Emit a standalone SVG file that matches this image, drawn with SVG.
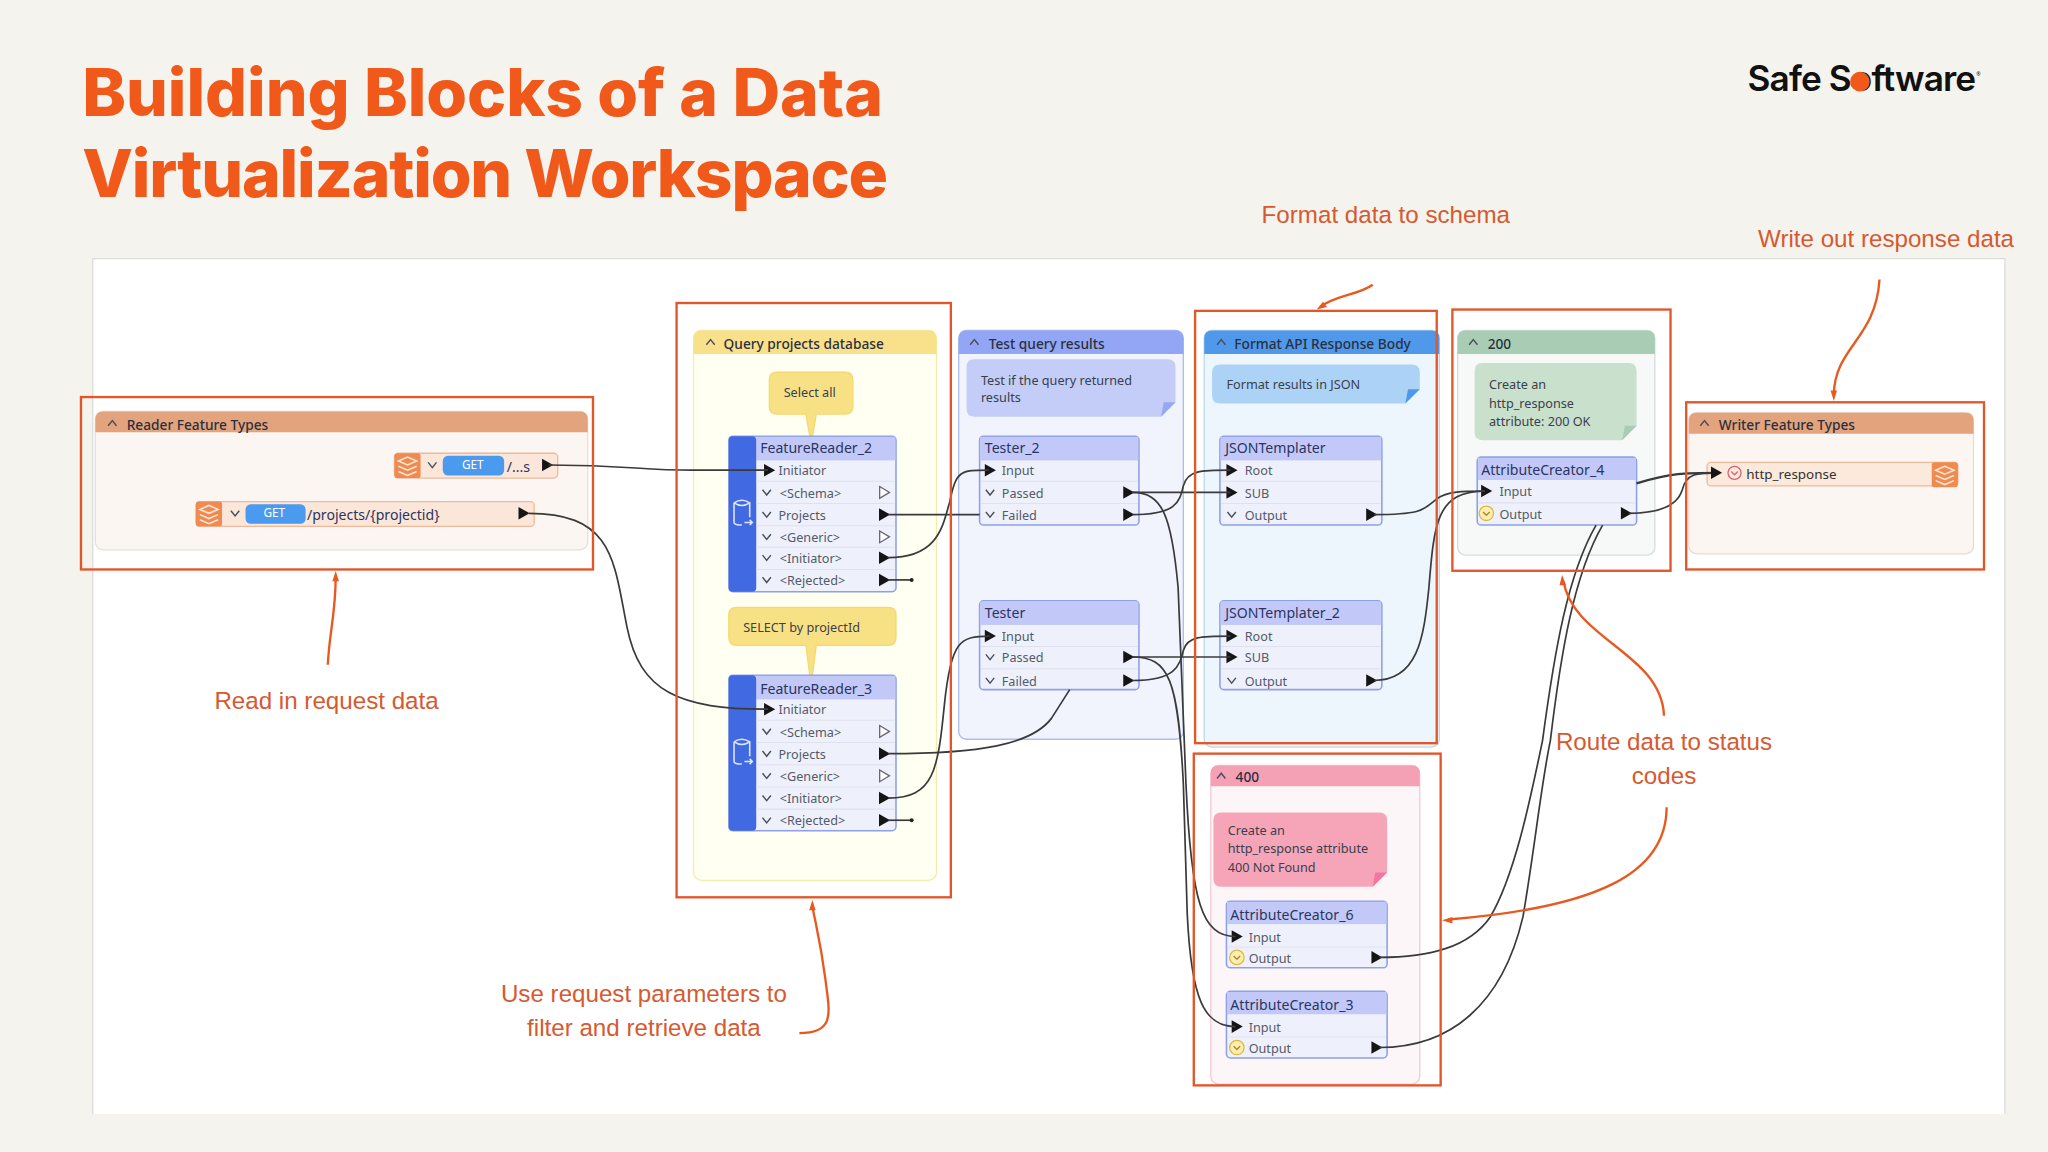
<svg xmlns="http://www.w3.org/2000/svg" width="2048" height="1152" viewBox="0 0 2048 1152">
<style>
text{font-family:"Noto Sans","DejaVu Sans",sans-serif;font-size:10.5px;fill:#2f3550}
.title{font-family:Inter,"Liberation Sans",sans-serif;font-weight:800;font-size:50.500px;fill:#f1591a}
.logo{font-family:Inter,"Liberation Sans",sans-serif;font-weight:600;font-size:27px;fill:#111}
.ann{font-family:"Liberation Sans",sans-serif;font-size:18.500px;fill:#d65a30;text-anchor:middle}
.bt{font-size:10.500px;font-weight:500;fill:#2b3040}
.hd{font-size:10.800px;fill:#2b3560}
.row{fill:#555a68;font-size:9.700px}
.nt{font-size:9.700px;fill:#3a3f4c}
.node{fill:#eef1fb;stroke:#8fa0e8;stroke-width:1.2}
.nh{fill:#c2c9f9}
.side{fill:#4169e1}
.sep{stroke:#dfe2ee;stroke-width:.8}
.c{fill:none;stroke:#3a3a3a;stroke-width:1.3}
.box{fill:none;stroke:#e2572a;stroke-width:1.8}
.a{fill:none;stroke:#e8591f;stroke-width:1.8}
.ah{fill:#e8591f}
.chev{fill:none;stroke:#4a4f5c;stroke-width:1.1}
.get{fill:#4a9bf0}
.gt{fill:#fff;font-size:9px;text-anchor:middle}
.ok{fill:#fbeeb5;stroke:#e0b93c;stroke-width:1}
</style>
<defs>
<path id="tri" d="M-4,-4.8L4.5,0L-4,4.8Z" fill="#151515"/>
<path id="otri" d="M-3.5,-4.5L4,0L-3.5,4.5Z" fill="#fff" stroke="#667" stroke-width="1"/>
<path id="ch" class="chev" d="M-3.2,-2L0,2L3.2,-2"/>
<path id="up" class="chev" d="M-3.2,2L0,-2L3.2,2"/>
<g id="stack"><rect x="0" y="0" width="20" height="19" rx="2" fill="#ef8a50"/><path d="M3,6L10,3L17,6L10,9ZM3,10L10,13L17,10M3,14L10,17L17,14" fill="none" stroke="#fde6d6" stroke-width="1.2"/></g>
<g id="db"><path d="M-6,-8V7Q-6,9 0,9M6,-8V3M-6,-8Q0,-12 6,-8Q0,-4 -6,-8M2,7H8M6,5L8,7L6,9" fill="none" stroke="#dfe6ff" stroke-width="1.2"/></g>
<g id="okc"><circle class="ok" r="5.5"/><path class="chev" d="M-2.5,-1L0,1.5L2.5,-1" style="stroke:#b08a20"/></g>
</defs>
<rect width="2048" height="1152" fill="#f4f3ee"/>
<g transform="scale(1.30612)">
<text class="title" x="63" y="89" textLength="613" lengthAdjust="spacing">Building Blocks of a Data</text>
<text class="title" x="63" y="151" textLength="617" lengthAdjust="spacing">Virtualization Workspace</text>
<text class="logo" x="1338" y="70" textLength="175" lengthAdjust="spacing">Safe Software</text>
<circle cx="1424" cy="62.500" r="7.500" fill="#f1591a"/>
<text x="1513" y="58" style="font-size:4px;fill:#111">®</text>

<path d="M71,853V198H1535V853Z" fill="#fff"/><path d="M71,853V198H1535V853" fill="none" stroke="#dcdcdc"/>

<g id="bm-reader"><rect x="73" y="315" width="377" height="106" rx="6" fill="#fbf6f1" stroke="#eadfd8"/><path d="M73,331V321Q73,315 79,315H444Q450,315 450,321V331Z" fill="#e2a37d"/><use href="#up" x="86" y="324"/><text class="bt" x="97" y="329">Reader Feature Types</text></g>
<g id="bm-query"><rect x="531" y="253" width="186" height="421" rx="6" fill="#fffff2" stroke="#f0eea8"/><path d="M531,271V259Q531,253 537,253H711Q717,253 717,259V271Z" fill="#f9e08b"/><use href="#up" x="544" y="262"/><text class="bt" x="554" y="267">Query projects database</text></g>
<g id="bm-test"><rect x="734" y="253" width="172" height="313" rx="6" fill="#f1f4fd" stroke="#b0bbf0"/><path d="M734,271V259Q734,253 740,253H900Q906,253 906,259V271Z" fill="#93a6f5"/><use href="#up" x="746" y="262"/><text class="bt" x="757" y="267">Test query results</text></g>
<g id="bm-format"><rect x="922" y="253" width="180" height="319" rx="6" fill="#eef6fd" stroke="#bcd8ea"/><path d="M922,271V259Q922,253 928,253H1096Q1102,253 1102,259V271Z" fill="#4f98ea"/><use href="#up" x="935" y="262"/><text class="bt" x="945" y="267">Format API Response Body</text></g>
<g id="bm-200"><rect x="1116" y="253" width="151" height="172" rx="6" fill="#f6f9f8" stroke="#d5dedb"/><path d="M1116,271V259Q1116,253 1122,253H1261Q1267,253 1267,259V271Z" fill="#a9cdb4"/><use href="#up" x="1128" y="262"/><text class="bt" x="1139" y="267">200</text></g>
<g id="bm-400"><rect x="927" y="586" width="160" height="244" rx="6" fill="#fdf6f9" stroke="#f6c8d6"/><path d="M927,602V592Q927,586 933,586H1081Q1087,586 1087,592V602Z" fill="#f4a0b5"/><use href="#up" x="935" y="594"/><text class="bt" x="946" y="599">400</text></g>
<g id="bm-writer"><rect x="1293" y="316" width="218" height="108" rx="6" fill="#fbf6f1" stroke="#ecd9cf"/><path d="M1293,332V322Q1293,316 1299,316H1505Q1511,316 1511,322V332Z" fill="#e2a37d"/><use href="#up" x="1305" y="324"/><text class="bt" x="1316" y="329">Writer Feature Types</text></g>

<g id="reader-get-all"><rect x="302" y="347" width="125" height="19" rx="3" fill="#fbe6da" stroke="#f0b89a"/><use href="#stack" x="302" y="347"/><use href="#ch" x="331" y="356"/><rect class="get" x="339" y="349" width="47" height="15" rx="4"/><text class="gt" x="362" y="359">GET</text><text x="388" y="361" class="hd">/...s</text><use href="#tri" x="419" y="356"/></g>
<g id="reader-get-project"><rect x="150" y="384" width="259" height="19" rx="3" fill="#fbe6da" stroke="#f0b89a"/><use href="#stack" x="150" y="384"/><use href="#ch" x="180" y="393"/><rect class="get" x="188" y="386" width="46" height="15" rx="4"/><text class="gt" x="210" y="396">GET</text><text x="235" y="398" class="hd">/projects/{projectid}</text><use href="#tri" x="401" y="393"/></g>
<g id="writer-http-response"><rect x="1307" y="354" width="192" height="18" rx="3" fill="#fbeadc" stroke="#f0b89a"/><use href="#stack" x="1479" y="354"/><circle cx="1328" cy="362" r="5" fill="none" stroke="#d9607a"/><path d="M1325.500,361L1328,363.500L1330.500,361" fill="none" stroke="#d9607a"/><text x="1337" y="367" class="hd" style="fill:#333;font-size:10.300px">http_response</text></g>

<g id="note-select-all"><path d="M595,285H647Q653,285 653,291V311Q653,317 647,317H625L622,334H620L617,317H595Q589,317 589,311V291Q589,285 595,285Z" fill="#f8e184" stroke="#f3d970"/><text class="nt" x="600" y="304">Select all</text></g>
<g id="note-select-by"><path d="M564,465H680Q686,465 686,471V488Q686,494 680,494H625L622,517H620L617,494H564Q558,494 558,488V471Q558,465 564,465Z" fill="#f8e184" stroke="#f3d970"/><text class="nt" x="569" y="484">SELECT by projectId</text></g>
<g id="note-test"><path d="M746,275H894Q900,275 900,281V308L889,319H746Q740,319 740,313V281Q740,275 746,275Z" fill="#c3cdf8"/><path d="M900,308H891L889,319Z" fill="#95a9f2"/><text class="nt" x="751" y="295">Test if the query returned</text><text class="nt" x="751" y="308">results</text></g>
<g id="note-format"><path d="M934,279H1081Q1087,279 1087,285V298L1076,309H934Q928,309 928,303V285Q928,279 934,279Z" fill="#acd2f6"/><path d="M1087,298H1078L1076,309Z" fill="#4f98ea"/><text class="nt" x="939" y="298">Format results in JSON</text></g>
<g id="note-200"><path d="M1135,278H1247Q1253,278 1253,284V326L1242,337H1135Q1129,337 1129,331V284Q1129,278 1135,278Z" fill="#c9e0cd"/><path d="M1253,326H1244L1242,337Z" fill="#a9cdb4"/><text class="nt" x="1140" y="298">Create an</text><text class="nt" x="1140" y="312">http_response</text><text class="nt" x="1140" y="326">attribute: 200 OK</text></g>
<g id="note-400"><path d="M935,622H1056Q1062,622 1062,628V668L1051,679H935Q929,679 929,673V628Q929,622 935,622Z" fill="#f6a5b8"/><path d="M1062,668H1053L1051,679Z" fill="#f476a0"/><text class="nt" x="940" y="639">Create an</text><text class="nt" x="940" y="653">http_response attribute</text><text class="nt" x="940" y="668">400 Not Found</text></g>

<g id="feature-reader-2"><rect class="node" x="558" y="334" width="128" height="119" rx="3"/><rect class="nh" x="579" y="334.500" width="106.500" height="18"/><rect class="side" x="558" y="334" width="21" height="119" rx="3"/><path class="sep" d="M579,368.500H685M579,385.500H685M579,402.500H685M579,419H685M579,436H685"/><use href="#db" x="568" y="393"/><text class="hd" x="582" y="347">FeatureReader_2</text><use href="#tri" x="589" y="360"/><text class="row" x="596" y="364">Initiator</text><use href="#ch" x="587" y="377"/><text class="row" x="597" y="381">&lt;Schema&gt;</text><use href="#otri" x="677" y="377"/><use href="#ch" x="587" y="394"/><text class="row" x="596" y="398">Projects</text><use href="#tri" x="677" y="394"/><use href="#ch" x="587" y="411"/><text class="row" x="597" y="415">&lt;Generic&gt;</text><use href="#otri" x="677" y="411"/><use href="#ch" x="587" y="427"/><text class="row" x="597" y="431">&lt;Initiator&gt;</text><use href="#tri" x="677" y="427"/><use href="#ch" x="587" y="444"/><text class="row" x="597" y="448">&lt;Rejected&gt;</text><use href="#tri" x="677" y="444"/></g>
<g id="feature-reader-3"><rect class="node" x="558" y="517" width="128" height="119" rx="3"/><rect class="nh" x="579" y="517.500" width="106.500" height="18"/><rect class="side" x="558" y="517" width="21" height="119" rx="3"/><path class="sep" d="M579,551.500H685M579,568.500H685M579,585.500H685M579,602.500H685M579,619.500H685"/><use href="#db" x="568" y="576"/><text class="hd" x="582" y="531">FeatureReader_3</text><use href="#tri" x="589" y="543"/><text class="row" x="596" y="547">Initiator</text><use href="#ch" x="587" y="560"/><text class="row" x="597" y="564">&lt;Schema&gt;</text><use href="#otri" x="677" y="560"/><use href="#ch" x="587" y="577"/><text class="row" x="596" y="581">Projects</text><use href="#tri" x="677" y="577"/><use href="#ch" x="587" y="594"/><text class="row" x="597" y="598">&lt;Generic&gt;</text><use href="#otri" x="677" y="594"/><use href="#ch" x="587" y="611"/><text class="row" x="597" y="615">&lt;Initiator&gt;</text><use href="#tri" x="677" y="611"/><use href="#ch" x="587" y="628"/><text class="row" x="597" y="632">&lt;Rejected&gt;</text><use href="#tri" x="677" y="628"/></g>
<g id="tester-2"><rect class="node" x="750" y="334" width="122" height="68" rx="3"/><rect class="nh" x="750.500" y="334.500" width="121" height="18"/><path class="sep" d="M751,368.500H871M751,385.500H871"/><text class="hd" x="754" y="347">Tester_2</text><use href="#tri" x="758" y="360"/><text class="row" x="767" y="364">Input</text><use href="#ch" x="758" y="377"/><text class="row" x="767" y="381">Passed</text><use href="#tri" x="864" y="377"/><use href="#ch" x="758" y="394"/><text class="row" x="767" y="398">Failed</text><use href="#tri" x="864" y="394"/></g>
<g id="tester"><rect class="node" x="750" y="460" width="122" height="68" rx="3"/><rect class="nh" x="750.500" y="460.500" width="121" height="18"/><path class="sep" d="M751,495H871M751,512H871"/><text class="hd" x="754" y="473">Tester</text><use href="#tri" x="758" y="487"/><text class="row" x="767" y="491">Input</text><use href="#ch" x="758" y="503"/><text class="row" x="767" y="507">Passed</text><use href="#tri" x="864" y="503"/><use href="#ch" x="758" y="521"/><text class="row" x="767" y="525">Failed</text><use href="#tri" x="864" y="521"/></g>
<g id="json-templater"><rect class="node" x="934" y="334" width="124" height="68" rx="3"/><rect class="nh" x="934.500" y="334.500" width="123" height="18"/><path class="sep" d="M935,368.500H1057M935,385.500H1057"/><text class="hd" x="938" y="347">JSONTemplater</text><use href="#tri" x="943" y="360"/><text class="row" x="953" y="364">Root</text><use href="#tri" x="943" y="377"/><text class="row" x="953" y="381">SUB</text><use href="#ch" x="943" y="394"/><text class="row" x="953" y="398">Output</text><use href="#tri" x="1050" y="394"/></g>
<g id="json-templater-2"><rect class="node" x="934" y="460" width="124" height="68" rx="3"/><rect class="nh" x="934.500" y="460.500" width="123" height="18"/><path class="sep" d="M935,495H1057M935,512H1057"/><text class="hd" x="938" y="473">JSONTemplater_2</text><use href="#tri" x="943" y="487"/><text class="row" x="953" y="491">Root</text><use href="#tri" x="943" y="503"/><text class="row" x="953" y="507">SUB</text><use href="#ch" x="943" y="521"/><text class="row" x="953" y="525">Output</text><use href="#tri" x="1050" y="521"/></g>
<g id="attribute-creator-4"><rect class="node" x="1131" y="350" width="122" height="52" rx="3"/><rect class="nh" x="1131.500" y="350.500" width="121" height="17"/><path class="sep" d="M1132,385H1252"/><text class="hd" x="1134" y="364">AttributeCreator_4</text><use href="#tri" x="1138" y="376"/><text class="row" x="1148" y="380">Input</text><use href="#okc" x="1138" y="393"/><text class="row" x="1148" y="397">Output</text><use href="#tri" x="1245" y="393"/></g>
<g id="attribute-creator-6"><rect class="node" x="939" y="690" width="123" height="51" rx="3"/><rect class="nh" x="939.500" y="690.500" width="122" height="17"/><path class="sep" d="M940,725H1061"/><text class="hd" x="942" y="704">AttributeCreator_6</text><use href="#tri" x="947" y="717"/><text class="row" x="956" y="721">Input</text><use href="#okc" x="947" y="733"/><text class="row" x="956" y="737">Output</text><use href="#tri" x="1054" y="733"/></g>
<g id="attribute-creator-3"><rect class="node" x="939" y="759" width="123" height="51" rx="3"/><rect class="nh" x="939.500" y="759.500" width="122" height="17"/><path class="sep" d="M940,794H1061"/><text class="hd" x="942" y="773">AttributeCreator_3</text><use href="#tri" x="947" y="786"/><text class="row" x="956" y="790">Input</text><use href="#okc" x="947" y="802"/><text class="row" x="956" y="806">Output</text><use href="#tri" x="1054" y="802"/></g>

<g id="connectors">
<path class="c" d="M420,356C480,356 490,360 530,360H588"/>
<path class="c" d="M405,393C470,393 470,430 480,480C490,530 520,543 588,543"/>
<path class="c" d="M680,394H750"/>
<path class="c" d="M680,427C720,427 722,400 727,385C732,360 735,360 757,360"/>
<path class="c" d="M680,444H698"/><circle cx="698" cy="444" r="1.500" fill="#222"/>
<path class="c" d="M680,577C750,577 790,570 805,550L819,528"/>
<path class="c" d="M680,611C715,611 718,590 723,540C728,490 735,487 758,487"/>
<path class="c" d="M680,628H698"/><circle cx="698" cy="628" r="1.500" fill="#222"/>
<path class="c" d="M867,377H942"/>
<path class="c" d="M867,377C890,377 897,395 902,450L908,600C912,690 920,717 946,717"/>
<path class="c" d="M867,394C900,394 903,385 906,372C909,360 920,360 942,360"/>
<path class="c" d="M867,503H942"/>
<path class="c" d="M867,503C895,503 902,520 906,600L909,700C912,765 922,786 946,786"/>
<path class="c" d="M867,521C900,521 903,510 906,498C909,487 920,487 942,487"/>
<path class="c" d="M1052,394C1090,394 1090,390 1100,382C1108,376 1120,376 1137,376"/>
<path class="c" d="M1052,521C1085,521 1090,490 1094,450C1098,400 1100,376 1137,376"/>
<path class="c" d="M1247,393C1275,393 1285,385 1288,375C1291,362 1300,362 1315,362"/>
<path class="c" d="M1056,733C1095,733 1125,725 1141,702C1160,670 1172,610 1181,567C1190,500 1200,440 1222,402"/>
<path class="c" d="M1056,802C1110,802 1150,770 1166,702C1175,650 1180,600 1187,567C1195,500 1205,440 1227,402"/>
<path class="c" d="M1253,370C1280,362 1290,362 1315,362" style="stroke-width:1.800"/>
<use href="#tri" x="1314" y="362"/>
</g>

<g id="annotations">
<rect class="box" x="62" y="304" width="392" height="132"/>
<rect class="box" x="518" y="232" width="210" height="455"/>
<rect class="box" x="915" y="238" width="185" height="331"/>
<rect class="box" x="1112" y="237" width="167" height="200"/>
<rect class="box" x="914" y="577" width="189" height="254"/>
<rect class="box" x="1291" y="308" width="228" height="128"/>
<path class="a" d="M251,509C252,485 257,470 257,442"/><path class="ah" d="M257,437L254.500,445H259.500Z"/>
<path class="a" d="M1051,218C1040,226 1022,226 1011,235"/><path class="ah" d="M1008,237L1016,235L1013,231Z"/>
<path class="a" d="M1439,214C1436,260 1405,265 1404,302"/><path class="ah" d="M1404,307L1401.500,299H1406.500Z"/>
<path class="a" d="M1274,548C1272,500 1205,490 1197,445"/><path class="ah" d="M1196,440L1194,448H1199Z"/>
<path class="a" d="M1276,618C1276,670 1220,695 1109,704"/><path class="ah" d="M1104,704.500L1112,702V707Z"/>
<path class="a" d="M612,791C640,791 635,775 632,750C628,720 625,710 622,694"/><path class="ah" d="M622,689L619.500,697H624.500Z"/>
<text class="ann" x="1061" y="171">Format data to schema</text>
<text class="ann" x="1444" y="189">Write out response data</text>
<text class="ann" x="250" y="543">Read in request data</text>
<text class="ann" x="1274" y="574">Route data to status</text>
<text class="ann" x="1274" y="600">codes</text>
<text class="ann" x="493" y="767">Use request parameters to</text>
<text class="ann" x="493" y="793">filter and retrieve data</text>
</g>
</g>
</svg>
